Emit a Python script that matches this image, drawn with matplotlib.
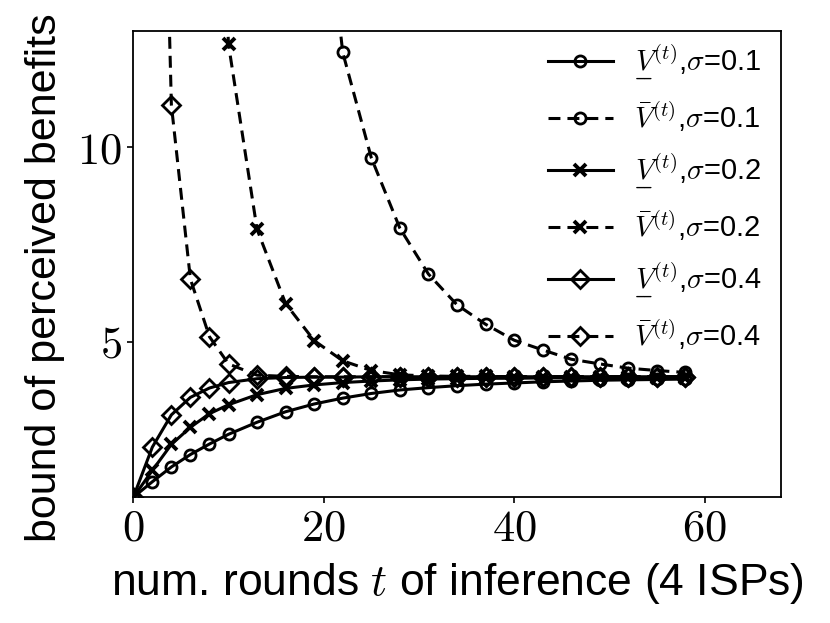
import matplotlib
matplotlib.use("Agg")
import matplotlib.pyplot as plt
from matplotlib.mathtext import MathTextParser

plt.rcParams['mathtext.fontset'] = 'cm'
plt.rcParams['font.family'] = ['Liberation Sans', 'DejaVu Sans']

# ---- data ----
t_lower = [0, 2, 4, 6, 8, 10, 13, 16, 19, 22, 25, 28, 31, 34, 37, 40, 43, 46, 49, 52, 55, 58]
low_s01 = [1.0, 1.40, 1.78, 2.10, 2.37, 2.62, 2.93, 3.20, 3.40, 3.55, 3.67, 3.76, 3.82, 3.87,
           3.91, 3.94, 3.97, 3.99, 4.01, 4.02, 4.03, 4.04]
low_s02 = [1.0, 1.69, 2.36, 2.80, 3.15, 3.38, 3.64, 3.80, 3.89, 3.95, 3.99, 4.02, 4.04, 4.05,
           4.06, 4.06, 4.07, 4.07, 4.07, 4.07, 4.07, 4.07]
low_s04 = [1.0, 2.29, 3.12, 3.57, 3.81, 3.95, 4.05, 4.08, 4.09, 4.09, 4.10, 4.10, 4.10, 4.10,
           4.10, 4.10, 4.10, 4.10, 4.10, 4.10, 4.10, 4.10]

t_up_s01 = [19, 22, 25, 28, 31, 34, 37, 40, 43, 46, 49, 52, 55, 58]
up_s01 = [19.0, 12.44, 9.73, 7.92, 6.74, 5.95, 5.45, 5.04, 4.79, 4.55, 4.43, 4.32, 4.26, 4.21]
t_up_s02 = [8, 10, 13, 16, 19, 22, 25, 28, 31, 34, 37, 40, 43, 46, 49, 52, 55, 58]
up_s02 = [23.0, 12.65, 7.89, 5.98, 5.03, 4.51, 4.26, 4.15, 4.12, 4.11, 4.11, 4.10, 4.10, 4.10,
          4.10, 4.10, 4.10, 4.10]
t_up_s04 = [2, 4, 6, 8, 10, 13, 16, 19, 22, 25, 28, 31, 34, 37, 40, 43, 46, 49, 52, 55, 58]
up_s04 = [30.0, 11.09, 6.61, 5.13, 4.43, 4.14, 4.11, 4.10, 4.10, 4.10, 4.10, 4.10, 4.10, 4.10,
          4.10, 4.10, 4.10, 4.10, 4.10, 4.10, 4.10]

sigmas = ['0.1', '0.2', '0.4']
xticks = [0, 20, 40, 60]
yticks = [5, 10]

# ---- labels ----
def _ok(s):
    try:
        MathTextParser('agg').parse(s)
        return True
    except Exception:
        return False

LOWER_V = None
for cand in [r'$\underline{V}^{(t)}$', r'$\underset{\_\!\_}{V}^{(t)}$', r'$\underset{-}{V}^{(t)}$']:
    if _ok(cand):
        LOWER_V = cand
        break
if LOWER_V is None:
    LOWER_V = r'$V^{(t)}$'

def lower_label(s):
    return LOWER_V + r',$\sigma$=' + s

def upper_label(s):
    return r'$\bar{V}^{(t)}$,$\sigma$=' + s

fig = plt.figure(figsize=(8.3, 6.23), dpi=100)
ax = fig.add_axes([0.1606, 0.2018, 0.7800, 0.7489])

lw = 2.2
dash = (0, (3.9, 2.3))
mk = dict(mfc='none', mec='black', mew=2.0)

ax.plot(t_lower, low_s01, color='black', lw=lw, marker='o', ms=8, label=lower_label(sigmas[0]), **mk)
ax.plot(t_up_s01, up_s01, color='black', lw=lw, ls=dash, marker='o', ms=8, label=upper_label(sigmas[0]), **mk)
ax.plot(t_lower, low_s02, color='black', lw=lw, marker='x', ms=9, label=lower_label(sigmas[1]), **dict(mk, mew=2.8))
ax.plot(t_up_s02, up_s02, color='black', lw=lw, ls=dash, marker='x', ms=9, label=upper_label(sigmas[1]), **dict(mk, mew=2.8))
ax.plot(t_lower, low_s04, color='black', lw=lw, marker='D', ms=9, label=lower_label(sigmas[2]), **mk)
ax.plot(t_up_s04, up_s04, color='black', lw=lw, ls=dash, marker='D', ms=9, label=upper_label(sigmas[2]), **mk)

ax.set_xlim(0, 68)
ax.set_ylim(1, 13)
ax.set_xticks(xticks, labels=[f'${v}$' for v in xticks])
ax.set_yticks(yticks, labels=[f'${v}$' for v in yticks])
ax.tick_params(labelsize=32, length=4, width=1.2, direction='out', pad=4)
for sp in ax.spines.values():
    sp.set_linewidth(1.3)

ax.set_xlabel(r'num. rounds $t$ of inference (4 ISPs)', fontsize=32, labelpad=8)
ax.set_ylabel('bound of perceived benefits', fontsize=31)
ax.yaxis.set_label_coords(-0.105, 0.47)

ax.legend(loc='upper right', frameon=False, fontsize=21, handlelength=2.2,
          handletextpad=0.75, labelspacing=0.6, numpoints=1, borderaxespad=0.0,
          bbox_to_anchor=(0.99, 1.0))

fig.savefig('out.png', dpi=100)
